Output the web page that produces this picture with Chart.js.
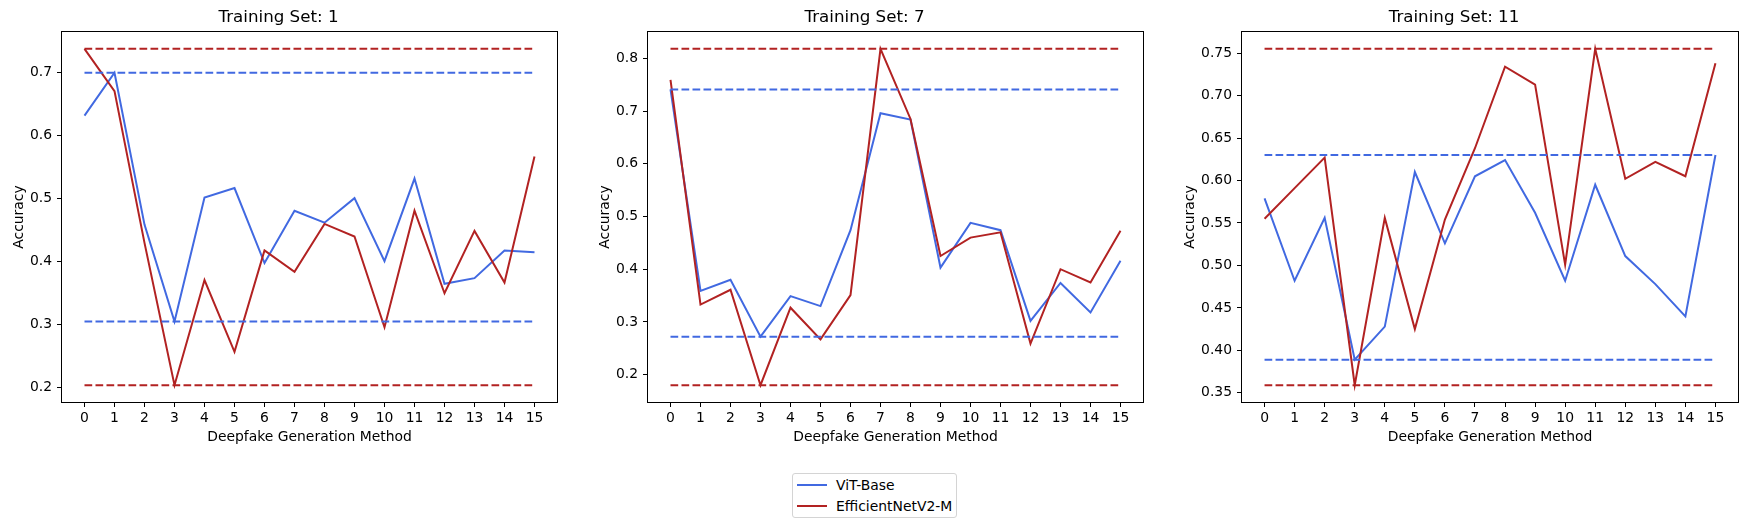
<!DOCTYPE html>
<html>
<head>
<meta charset="utf-8">
<script src="https://cdn.jsdelivr.net/npm/chart.js@4.4.1/dist/chart.umd.min.js"></script>
<style>
  body { margin: 0; background: #fff; width: 1754px; height: 532px; position: relative; overflow: hidden; font-family: "DejaVu Sans", sans-serif; }
  canvas { position: absolute; top: 0; }
  #legend { position: absolute; left: 792px; top: 473px; width: 165px; height: 45px; border: 1px solid #d4d4d4; border-radius: 3px; box-sizing: border-box; }
  .row { position: absolute; left: 0; height: 20px; font-size: 13.9px; line-height: 20px; color: #000; white-space: nowrap; }
  .row span.swatch { position: absolute; left: 4px; top: 9px; width: 30px; height: 2px; }
  .row span.lbl { position: absolute; left: 43px; top: 0; }
</style>
</head>
<body>
<canvas id="c0" width="575" height="460" style="left:0px"></canvas>
<canvas id="c1" width="575" height="460" style="left:586px"></canvas>
<canvas id="c2" width="584" height="460" style="left:1170px"></canvas>
<div id="legend">
  <div class="row" style="top:1px"><span class="swatch" style="background:#4169e1"></span><span class="lbl">ViT-Base</span></div>
  <div class="row" style="top:22px"><span class="swatch" style="background:#b22222"></span><span class="lbl">EfficientNetV2-M</span></div>
</div>
<script>
// x categories: deepfake generation methods 0..15
const methods = [0, 1, 2, 3, 4, 5, 6, 7, 8, 9, 10, 11, 12, 13, 14, 15];

// Training set 1
const vit1 = [0.632, 0.700, 0.459, 0.305, 0.502, 0.517, 0.398, 0.481, 0.462, 0.501, 0.401, 0.532, 0.365, 0.374, 0.418, 0.415];
const eff1 = [0.738, 0.671, 0.430, 0.204, 0.371, 0.257, 0.418, 0.384, 0.460, 0.440, 0.296, 0.481, 0.350, 0.449, 0.367, 0.567];

// Training set 7
const vit7 = [0.741, 0.359, 0.380, 0.272, 0.349, 0.330, 0.474, 0.696, 0.684, 0.403, 0.488, 0.474, 0.302, 0.374, 0.318, 0.416];
const eff7 = [0.759, 0.333, 0.361, 0.180, 0.327, 0.267, 0.351, 0.818, 0.685, 0.425, 0.460, 0.470, 0.259, 0.400, 0.375, 0.473];

// Training set 11
const vit11 = [0.579, 0.482, 0.556, 0.389, 0.428, 0.610, 0.526, 0.605, 0.624, 0.562, 0.482, 0.595, 0.511, 0.478, 0.440, 0.630];
const eff11 = [0.555, 0.591, 0.627, 0.359, 0.556, 0.425, 0.554, 0.638, 0.734, 0.713, 0.501, 0.755, 0.602, 0.622, 0.605, 0.738];

const setNames = ["1", "7", "11"];
const yStep = [0.1, 0.1, 0.05];
const yDecimals = [1, 1, 2];

const BLUE = "#4169e1";
const RED = "#b22222";
const FONT = "'DejaVu Sans', sans-serif";

const frame = {
  id: "frame",
  afterDatasetsDraw(chart) {
    const { ctx, chartArea: a } = chart;
    const l = Math.round(a.left), t = Math.round(a.top);
    const r = Math.round(a.right), b = Math.round(a.bottom);
    ctx.save();
    ctx.strokeStyle = "#000";
    ctx.lineWidth = 1;
    ctx.strokeRect(l - 0.5, t - 0.5, r - l + 1, b - t + 1);
    ctx.restore();
  }
};

function pts(vals) {
  return vals.map((v, i) => ({ x: methods[i], y: v }));
}

function hline(v) {
  return [{ x: methods[0], y: v }, { x: methods[methods.length - 1], y: v }];
}

function makeChart(id, idx, vit, eff, yWidth, yTitlePad, rightPad) {
  const all = vit.concat(eff);
  const hi = Math.max(...all), lo = Math.min(...all);
  const margin = (hi - lo) * 0.05;

  const lineBase = { borderWidth: 2, pointRadius: 0, tension: 0, fill: false };

  new Chart(document.getElementById(id), {
    type: "line",
    data: {
      datasets: [
        { ...lineBase, label: "ViT-Base", data: pts(vit), borderColor: BLUE, order: 4 },
        { ...lineBase, label: "EfficientNetV2-M", data: pts(eff), borderColor: RED, order: 3 },
        { ...lineBase, label: "vit max", data: hline(Math.max(...vit)), borderColor: BLUE, borderDash: [7.7, 3.3], order: 2 },
        { ...lineBase, label: "vit min", data: hline(Math.min(...vit)), borderColor: BLUE, borderDash: [7.7, 3.3], order: 2 },
        { ...lineBase, label: "eff max", data: hline(Math.max(...eff)), borderColor: RED, borderDash: [7.7, 3.3], order: 1 },
        { ...lineBase, label: "eff min", data: hline(Math.min(...eff)), borderColor: RED, borderDash: [7.7, 3.3], order: 1 }
      ]
    },
    options: {
      responsive: false,
      animation: false,
      events: [],
      layout: { padding: { left: 0, right: rightPad, top: 0, bottom: 0 } },
      plugins: {
        legend: { display: false },
        tooltip: { enabled: false },
        title: {
          display: true,
          text: "Training Set: " + setNames[idx],
          color: "#000",
          font: { family: FONT, size: 16.7, weight: "normal" },
          padding: { top: 8, bottom: 4 }
        }
      },
      scales: {
        x: {
          type: "linear",
          min: methods[0] - 0.75,
          max: methods[methods.length - 1] + 0.75,
          afterFit: s => { s.height = 58; },
          border: { display: false },
          grid: { display: true, drawOnChartArea: false, drawTicks: true, tickLength: 5, color: "#000" },
          ticks: {
            stepSize: 1,
            includeBounds: false,
            autoSkip: false,
            maxRotation: 0,
            padding: 3,
            color: "#000",
            font: { family: FONT, size: 13.9 }
          },
          title: {
            display: true,
            text: "Deepfake Generation Method",
            color: "#000",
            font: { family: FONT, size: 13.9 },
            padding: { top: 0, bottom: 14.2 }
          }
        },
        y: {
          type: "linear",
          min: lo - margin,
          max: hi + margin,
          afterFit: s => { s.width = yWidth; },
          border: { display: false },
          grid: { display: true, drawOnChartArea: false, drawTicks: true, tickLength: 5, color: "#000" },
          ticks: {
            stepSize: yStep[idx],
            includeBounds: false,
            padding: 5,
            color: "#000",
            font: { family: FONT, size: 13.9 },
            callback: v => Number(v).toFixed(yDecimals[idx])
          },
          title: {
            display: true,
            text: "Accuracy",
            color: "#000",
            font: { family: FONT, size: 13.9 },
            padding: { top: yTitlePad, bottom: 0 }
          }
        }
      }
    },
    plugins: [frame]
  });
}

makeChart("c0", 0, vit1, eff1, 62, 10.7, 18);
makeChart("c1", 1, vit7, eff7, 62, 10.7, 18);
makeChart("c2", 2, vit11, eff11, 72, 11.7, 16);
</script>
</body>
</html>
